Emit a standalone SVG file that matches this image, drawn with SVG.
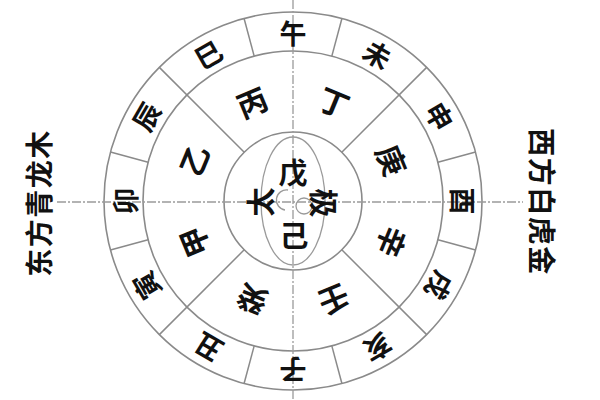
<svg xmlns="http://www.w3.org/2000/svg" width="600" height="400" viewBox="0 0 600 400">
<style>
.ring{fill:none;stroke:#8a8a8a;stroke-width:1.6}
.div{stroke:#8a8a8a;stroke-width:1.5}
.axis{stroke:#9a9a9a;stroke-width:1.3;stroke-dasharray:9 2 2 2}
.tj{fill:none;stroke:#9a9a9a;stroke-width:1.3}
.b,.s,.c,.side{font-family:"Noto Sans CJK SC","Noto Sans CJK TC",sans-serif;font-weight:bold;fill:#111;text-anchor:middle;dominant-baseline:central}
.b{font-size:27px}
.s{font-size:30px}
.c{font-size:29px}
.side{font-size:28px;letter-spacing:1.5px}
</style>
<rect width="600" height="400" fill="#fff"/>
<g id="rings">
<circle class="ring" cx="293" cy="201" r="189"/>
<circle class="ring" cx="293" cy="201" r="150"/>
<circle class="ring" cx="293" cy="201" r="69"/>
<ellipse class="tj" cx="293" cy="201" rx="32" ry="64"/>
<circle class="tj" cx="304" cy="206" r="8"/>
<path class="tj" d="M288,190 A9,9 0 0 0 285,210"/>
</g>
<g id="connectors">
<line class="axis" x1="293" y1="0" x2="293" y2="400"/>
<line class="axis" x1="57" y1="202" x2="523" y2="202"/>
<line class="div" x1="437.89" y1="162.18" x2="475.56" y2="152.09"/>
<line class="div" x1="331.82" y1="56.11" x2="341.91" y2="18.44"/>
<line class="div" x1="254.18" y1="56.11" x2="244.09" y2="18.44"/>
<line class="div" x1="148.11" y1="162.18" x2="110.44" y2="152.09"/>
<line class="div" x1="148.11" y1="239.82" x2="110.44" y2="249.91"/>
<line class="div" x1="254.18" y1="345.89" x2="244.09" y2="383.56"/>
<line class="div" x1="331.82" y1="345.89" x2="341.91" y2="383.56"/>
<line class="div" x1="437.89" y1="239.82" x2="475.56" y2="249.91"/>
<line class="div" x1="341.79" y1="152.21" x2="426.64" y2="67.36"/>
<line class="div" x1="244.21" y1="152.21" x2="159.36" y2="67.36"/>
<line class="div" x1="244.21" y1="249.79" x2="159.36" y2="334.64"/>
<line class="div" x1="341.79" y1="249.79" x2="426.64" y2="334.64"/>
</g>
<g id="branches">
<text class="b" transform="translate(293,32)">午</text>
<text class="b" transform="translate(378,53.8) rotate(30)">未</text>
<text class="b" transform="translate(440.2,116) rotate(60)">申</text>
<text class="b" transform="translate(463,201) rotate(90)">酉</text>
<text class="b" transform="translate(440.2,286) rotate(120)">戌</text>
<text class="b" transform="translate(378,348.2) rotate(150)">亥</text>
<text class="b" transform="translate(293,370) rotate(180)">子</text>
<text class="b" transform="translate(208,348.2) rotate(210)">丑</text>
<text class="b" transform="translate(145.8,286) rotate(240)">寅</text>
<text class="b" transform="translate(124,201) rotate(270)">卯</text>
<text class="b" transform="translate(145.8,116) rotate(300)">辰</text>
<text class="b" transform="translate(208,53.8) rotate(330)">巳</text>
</g>
<g id="stems">
<text class="s" transform="translate(251.7,101.2) rotate(-22.5)">丙</text>
<text class="s" transform="translate(334.3,101.2) rotate(22.5)">丁</text>
<text class="s" transform="translate(392.8,159.7) rotate(67.5)">庚</text>
<text class="s" transform="translate(392.8,242.3) rotate(112.5)">辛</text>
<text class="s" transform="translate(334.3,300.8) rotate(157.5)">壬</text>
<text class="s" transform="translate(251.7,300.8) rotate(202.5)">癸</text>
<text class="s" transform="translate(193.2,242.3) rotate(247.5)">甲</text>
<text class="s" transform="translate(193.2,159.7) rotate(292.5)">乙</text>
</g>
<g id="center">
<text class="c" transform="translate(293,171)">戊</text>
<text class="c" transform="translate(294,234)">己</text>
<text class="c" transform="translate(259,202) rotate(-90)">太</text>
<text class="c" transform="translate(325,203) rotate(90)">极</text>
</g>
<g id="east">
<text class="side" transform="translate(38,203) rotate(-90)">东方青龙木</text>
</g>
<g id="west">
<text class="side" transform="translate(543,202) rotate(90)">西方白虎金</text>
</g>
</svg>
